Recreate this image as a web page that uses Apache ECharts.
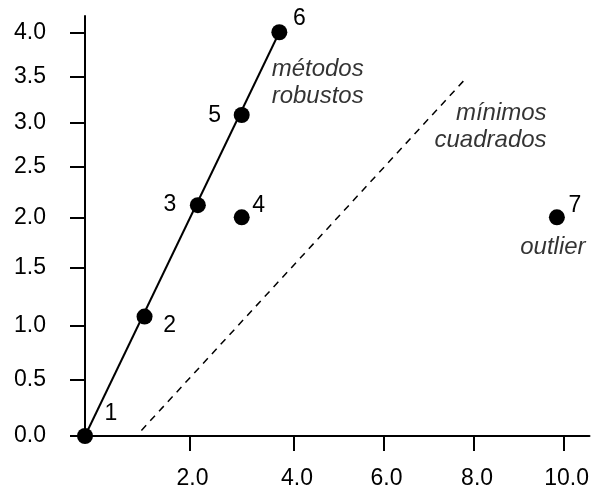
<!DOCTYPE html>
<html>
<head>
<meta charset="utf-8">
<script src="https://cdn.jsdelivr.net/npm/echarts@6/dist/echarts.min.js"></script>
<style>html,body{margin:0;padding:0;background:#fff;}#chart{width:592px;height:490px;}</style>
</head>
<body>
<div id="chart"></div>
<script>
// ---- data (in the axis-label units) ----
const pointNames = ['1', '2', '3', '4', '5', '6', '7'];
const pointX = [0, 1.14, 2.16, 3.0, 3.0, 3.72, 9.85];
const pointY = [0, 1.08, 2.12, 2.0, 3.08, 4.0, 2.0];

const robustLineX = [0, 3.72];
const robustLineY = [0, 4.0];
const lsqLineX = [1.08, 7.81];
const lsqLineY = [0.05, 3.48];

const annotText = ['métodos\nrobustos', 'mínimos\ncuadrados', 'outlier'];
const annotX = [4.53, 9.62, 9.76];
const annotY = [3.44, 2.95, 1.70];

const xTickValues = [2, 4, 6, 8, 10];
const xTickLabels = ['2.0', '4.0', '6.0', '8.0', '10.0'];
const yTickValues = [0, 0.5, 1, 1.5, 2, 2.5, 3, 3.5, 4];
const yTickLabels = ['0.0', '0.5', '1.0', '1.5', '2.0', '2.5', '3.0', '3.5', '4.0'];

// ---- axis calibration of the hand-drawn (uneven) axes ----
const xCalibValue = [0, 2, 4, 6, 8, 10];
const xCalibAt = [0, 2, 4, 5.714, 7.448, 9.162];
const yCalibValue = [0, 0.5, 1, 1.5, 2, 2.5, 3, 3.5, 4];
const yCalibAt = [0, 0.555, 1.091, 1.662, 2.165, 2.667, 3.106, 3.554, 3.997];

// ---- styles ----
const pointLabelOffset = [[26, -22], [25, 9], [-28, 0], [17, -12], [-27, 1], [20, -14], [18, -12]];
const annotAlign = ['center', 'right', 'center'];
const FONT = '"Liberation Sans", Arial, Helvetica, sans-serif';

function warp(v, vals, at) {
  let i = 0;
  while (i < vals.length - 2 && v > vals[i + 1]) i++;
  const t = (v - vals[i]) / (vals[i + 1] - vals[i]);
  return at[i] + t * (at[i + 1] - at[i]);
}
const wx = v => warp(v, xCalibValue, xCalibAt);
const wy = v => warp(v, yCalibValue, yCalibAt);

const xTickAt = xTickValues.map(wx);
const yTickAt = yTickValues.map(wy);
function nearestLabel(v, ats, labels) {
  let best = 0;
  for (let i = 1; i < ats.length; i++) if (Math.abs(ats[i] - v) < Math.abs(ats[best] - v)) best = i;
  return labels[best];
}

const chart = echarts.init(document.getElementById('chart'), null, {renderer: 'canvas'});
chart.setOption({
  animation: false,
  backgroundColor: '#fff',
  grid: {left: 85, right: 0, top: 16, bottom: 52},
  xAxis: {
    type: 'value', min: 0, max: 9.657,
    axisLine: {show: true, onZero: false, lineStyle: {color: '#000', width: 2}},
    axisTick: {show: true, length: 15, customValues: xTickAt, lineStyle: {color: '#000', width: 2}},
    axisLabel: {
      show: true, customValues: xTickAt, margin: 31,
      color: '#000', fontSize: 23, fontFamily: FONT, padding: [0, 0, 0, 6],
      formatter: v => nearestLabel(v, xTickAt, xTickLabels)
    },
    splitLine: {show: false}
  },
  yAxis: {
    type: 'value', min: 0, max: 4.158,
    axisLine: {show: true, onZero: false, lineStyle: {color: '#000', width: 2}},
    axisTick: {show: true, length: 15, customValues: yTickAt, lineStyle: {color: '#000', width: 2}},
    axisLabel: {
      show: true, customValues: yTickAt, margin: 39,
      color: '#000', fontSize: 23, fontFamily: FONT, padding: [0, 0, 8, 0],
      formatter: v => nearestLabel(v, yTickAt, yTickLabels)
    },
    splitLine: {show: false}
  },
  series: [
    {
      type: 'line', z: 2, symbol: 'none', silent: true,
      data: robustLineX.map((x, i) => [wx(x), wy(robustLineY[i])]),
      lineStyle: {color: '#000', width: 2}
    },
    {
      type: 'line', z: 2, symbol: 'none', silent: true,
      data: lsqLineX.map((x, i) => [wx(x), wy(lsqLineY[i])]),
      lineStyle: {color: '#000', width: 1.5, type: [7, 6]}
    },
    {
      type: 'scatter', z: 5, symbol: 'circle', symbolSize: 16,
      itemStyle: {color: '#000', opacity: 1},
      data: pointX.map((x, i) => ({
        name: pointNames[i],
        value: [wx(x), wy(pointY[i])],
        label: {offset: pointLabelOffset[i]}
      })),
      label: {
        show: true, position: 'inside', formatter: p => p.name,
        color: '#000', fontSize: 23, fontFamily: FONT,
        align: 'center', verticalAlign: 'middle', textBorderWidth: 0
      }
    },
    {
      type: 'scatter', z: 4, symbolSize: 0, silent: true,
      data: annotX.map((x, i) => ({
        name: annotText[i],
        value: [wx(x), wy(annotY[i])],
        label: {align: annotAlign[i]}
      })),
      label: {
        show: true, position: 'inside', formatter: p => p.name,
        color: '#000', fontSize: 24, fontStyle: 'italic', fontFamily: FONT,
        lineHeight: 27, verticalAlign: 'middle', textBorderWidth: 0
      }
    }
  ]
});
</script>
</body>
</html>
